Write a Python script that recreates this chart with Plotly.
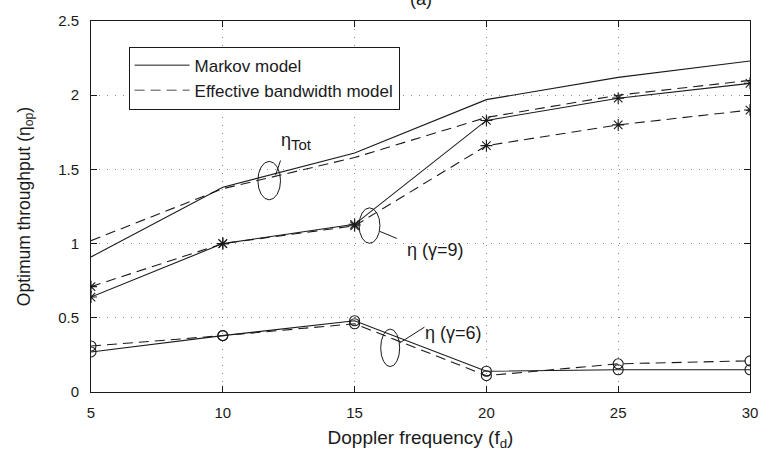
import plotly.graph_objects as go

fd = [5, 10, 15, 20, 25, 30]
markov_tot = [0.91, 1.38, 1.61, 1.97, 2.12, 2.23]
eb_tot = [1.02, 1.37, 1.58, 1.85, 2.00, 2.10]
markov_g9 = [0.64, 1.00, 1.13, 1.83, 1.98, 2.08]
eb_g9 = [0.71, 1.00, 1.12, 1.66, 1.80, 1.90]
markov_g6 = [0.27, 0.38, 0.48, 0.14, 0.15, 0.15]
eb_g6 = [0.31, 0.38, 0.46, 0.11, 0.19, 0.21]

x_ticks = [5, 10, 15, 20, 25, 30]
y_ticks = [0, 0.5, 1, 1.5, 2, 2.5]
y_ticklabels = ["0", "0.5", "1", "1.5", "2", "2.5"]

LC = "#1a1a1a"
DASH = "10px,6px"
FONT = "Liberation Sans, Arial, sans-serif"

fig = go.Figure()

def add(y, dash, marker=None):
    kw = dict(x=fd, y=y, showlegend=False, hoverinfo="skip",
              line=dict(color=LC, width=1.1, dash=dash))
    if marker:
        kw["mode"] = "lines+markers"
        kw["marker"] = dict(symbol=marker, size=10, color=LC,
                            line=dict(color=LC, width=1.1))
    else:
        kw["mode"] = "lines"
    fig.add_trace(go.Scatter(**kw))

add(markov_tot, "solid")
add(eb_tot, DASH)
add(markov_g9, "solid", "asterisk-open")
add(eb_g9, DASH, "asterisk-open")
add(markov_g6, "solid", "circle-open")
add(eb_g6, DASH, "circle-open")

# legend entries
fig.add_trace(go.Scatter(x=[None], y=[None], mode="lines", name="Markov model",
                         line=dict(color=LC, width=1)))
fig.add_trace(go.Scatter(x=[None], y=[None], mode="lines", name="Effective bandwidth model",
                         line=dict(color="#888888", width=1.5, dash=DASH)))

# ellipses and pointer lines
ellipses = [
    (11.33, 1.295, 12.19, 1.554),
    (15.17, 1.002, 15.96, 1.241),
    (15.99, 0.171, 16.71, 0.424),
]
for x0, y0, x1, y1 in ellipses:
    fig.add_shape(type="circle", xref="x", yref="y", x0=x0, y0=y0, x1=x1, y1=y1,
                  line=dict(color=LC, width=1))
pointers = [
    (12.0, 1.461, 12.19, 1.56),
    (15.96, 1.082, 16.6, 1.035),
    (16.71, 0.331, 17.65, 0.437),
]
for x0, y0, x1, y1 in pointers:
    fig.add_shape(type="line", xref="x", yref="y", x0=x0, y0=y0, x1=x1, y1=y1,
                  line=dict(color=LC, width=1))

ann_font = dict(family=FONT, size=18, color="#1a1a1a")
fig.add_annotation(x=12.15, y=1.69, xref="x", yref="y",
                   text="η<sub><span style='font-size:15px'>Tot</span></sub>",
                   showarrow=False, xanchor="left", yanchor="middle", font=ann_font)
fig.add_annotation(x=16.9, y=0.955, xref="x", yref="y", text="η (γ=9)",
                   showarrow=False, xanchor="left", yanchor="middle", font=ann_font)
fig.add_annotation(x=17.6, y=0.40, xref="x", yref="y", text="η (γ=6)",
                   showarrow=False, xanchor="left", yanchor="middle", font=ann_font)

# partially visible panel title (cut off at the top, as in the reference)
fig.add_annotation(x=0.5015, y=1.026, xref="paper", yref="paper", text="(a)",
                   showarrow=False, xanchor="center", yanchor="bottom", font=ann_font)

axis_common = dict(
    showline=True, linecolor="#1a1a1a", linewidth=1, mirror="ticks",
    ticks="inside", ticklen=6, tickcolor="#1a1a1a",
    showgrid=True, gridcolor="#8a8a8a", griddash="1px,7px", gridwidth=1,
    zeroline=False, tickfont=dict(family=FONT, size=15, color="#1a1a1a"),
)

fig.update_xaxes(range=[5, 30], tickvals=x_ticks, ticklabelstandoff=7,
                 title=dict(text="Doppler frequency (f<sub>d</sub>)", standoff=10,
                            font=dict(family=FONT, size=19, color="#1a1a1a")),
                 **axis_common)
fig.update_yaxes(range=[0, 2.5], tickvals=y_ticks, ticktext=y_ticklabels,
                 ticklabelstandoff=8,
                 title=dict(text="Optimum throughput (η<sub>op</sub>)", standoff=23,
                            font=dict(family=FONT, size=17.5, color="#1a1a1a")),
                 **axis_common)

fig.update_layout(
    width=770, height=456,
    margin=dict(l=91, r=15, t=17, b=63),
    plot_bgcolor="white", paper_bgcolor="white",
    font=dict(family=FONT, color="#1a1a1a"),
    legend=dict(x=0.057, y=0.931, xanchor="left", yanchor="top",
                bordercolor="#1a1a1a", borderwidth=1, bgcolor="white",
                font=dict(family=FONT, size=17, color="#1a1a1a"),
                itemwidth=55, tracegroupgap=0),
)

fig.write_html("out.html")
